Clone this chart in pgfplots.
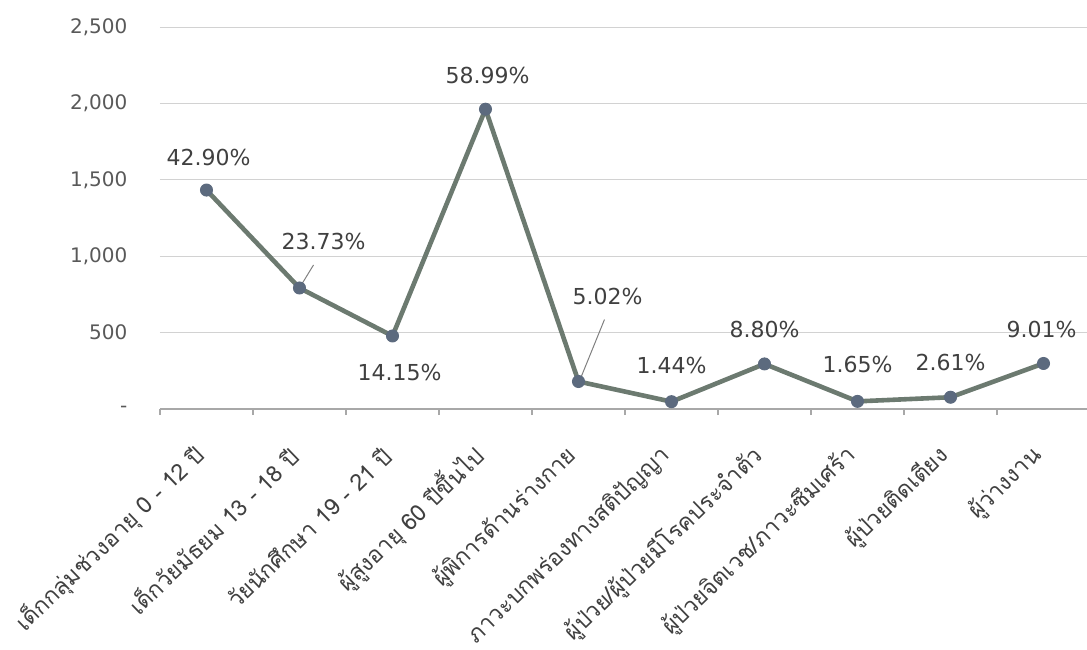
\documentclass[border=0pt]{standalone}
\usepackage{pgfplots}
\pgfplotsset{compat=1.18}
\usepackage{fontspec}
\setmainfont{DejaVu Sans}
\newfontfamily\thaifont[Script=Thai]{Loma}
\definecolor{linec}{RGB}{108,122,112}
\definecolor{markc}{RGB}{92,106,126}
\definecolor{labc}{RGB}{64,64,64}
\definecolor{tickc}{RGB}{89,89,89}
\definecolor{gridc}{RGB}{210,210,210}
\begin{document}
\begin{tikzpicture}[x=1pt,y=1pt]
\useasboundingbox (-80,-120) rectangle (463.5,204.5);
\begin{axis}[
  at={(0,0)}, anchor=south west, scale only axis,
  width=465pt, height=191pt,
  xmin=-0.5, xmax=9.5, ymin=0, ymax=2500,
  axis x line*=bottom, axis y line*=left,
  y axis line style={draw=none},
  x axis line style={draw=gridc!80!black, line width=0.6pt},
  ytick={0,500,1000,1500,2000,2500},
  yticklabels={-,500,{1,000},{1,500},{2,000},{2,500}},
  ytick style={draw=none},
  yticklabel style={font=\fontsize{10}{12}\selectfont, text=tickc, xshift=-8.5pt},
  ymajorgrids, grid style={gridc, line width=0.5pt},
  xtick={0,1,2,3,4,5,6,7,8,9},
  major x tick style={draw=none},
  minor xtick={-0.5,0.5,1.5,2.5,3.5,4.5,5.5,6.5,7.5,8.5,9.5},
  minor x tick style={draw=gridc!80!black, line width=0.6pt},
  tick align=outside, minor tick length=3pt,
  xticklabels={เด็กกลุ่มช่วงอายุ 0 - 12 ปี, เด็กวัยมัธยม 13 - 18 ปี, วัยนักศึกษา 19 - 21 ปี, ผู้สูงอายุ 60 ปีขึ้นไป, ผู้พิการด้านร่างกาย, ภาวะบกพร่องทางสติปัญญา, ผู้ป่วย/ผู้ป่วยมีโรคประจำตัว, ผู้ป่วยจิตเวช/ภาวะซึมเศร้า, ผู้ป่วยติดเตียง, ผู้ว่างงาน},
  xticklabel style={font=\thaifont\fontsize{11.5}{13}\selectfont, text=labc, rotate=44, anchor=east, yshift=-10.5pt, xshift=-10.5pt},
  clip=false,
]
\addplot[color=linec, line width=2.3pt, mark=*, mark size=3pt,
  mark options={fill=markc, draw=markc, line width=0.5pt},
  point meta=explicit symbolic,
  visualization depends on=\thisrow{dx}\as\dx,
  visualization depends on=\thisrow{dy}\as\dy,
  nodes near coords={\pgfplotspointmeta\%},
  every node near coord/.append style={anchor=center, xshift=\dx pt, yshift=\dy pt, font=\fontsize{11}{13}\selectfont, text=labc},
] table[x=x, y=y, meta=lbl] {
x y lbl dx dy
0 1433 42.90 1 16.5
1 792 23.73 12 23
2 478 14.15 3.5 -18.5
3 1962 58.99 1 17
4 180 5.02 14.5 42.5
5 48 1.44 0 18
6 295 8.80 0 17
7 50 1.65 0 18.5
8 77 2.61 0 17.5
9 298 9.01 -1 17
};
\draw[gray, line width=0.5pt] ([shift={(1.5pt,2.5pt)}]axis cs:1,792) -- ([shift={(7pt,11.5pt)}]axis cs:1,792);
\draw[gray, line width=0.5pt] ([shift={(1pt,1.5pt)}]axis cs:4,180) -- ([shift={(13pt,31pt)}]axis cs:4,180);
\end{axis}
\end{tikzpicture}
\end{document}
